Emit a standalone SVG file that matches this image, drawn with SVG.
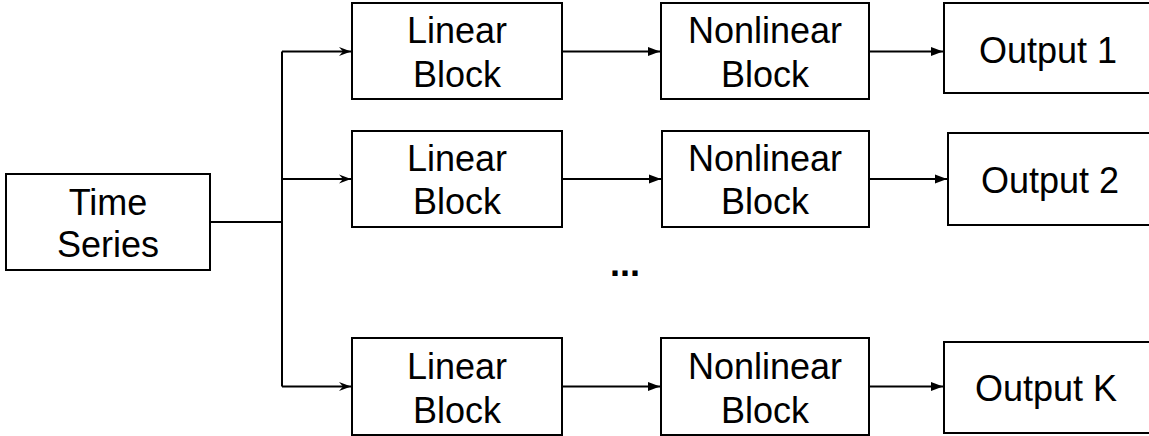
<svg xmlns="http://www.w3.org/2000/svg" width="1149" height="436" viewBox="0 0 1149 436">
  <defs>
    <style>
      .box { fill: #fff; stroke: #000; stroke-width: 2; }
      .lbl { font-family: "Liberation Sans", Arial, sans-serif; font-size: 36px; fill: #000; text-anchor: middle; }
      .conn { fill: none; stroke: #000; stroke-width: 2; }
      .dots { font-family: "Liberation Sans", Arial, sans-serif; font-size: 36px; font-weight: bold; fill: #000; }
    </style>
    <marker id="open" markerUnits="userSpaceOnUse" markerWidth="14" markerHeight="12" refX="12" refY="6" orient="auto">
      <path d="M0,1.5 L12,6 L0,10.5 L4,6 Z" fill="#000"/>
    </marker>
    <marker id="tri" markerUnits="userSpaceOnUse" markerWidth="14" markerHeight="12" refX="12" refY="6" orient="auto">
      <path d="M0,1.5 L12,6 L0,10.5 Z" fill="#000"/>
    </marker>
  </defs>
  <rect width="1149" height="436" fill="#fff"/>

  <g id="connectors">
    <path class="conn" d="M210,222 H282"/>
    <path class="conn" d="M282,51.5 V386.5"/>
    <path class="conn" d="M282,51.5 H351" marker-end="url(#open)"/>
    <path class="conn" d="M282,179 H351" marker-end="url(#open)"/>
    <path class="conn" d="M282,386.5 H351" marker-end="url(#open)"/>
    <path class="conn" d="M562,51.5 H660" marker-end="url(#tri)"/>
    <path class="conn" d="M562,179 H661" marker-end="url(#tri)"/>
    <path class="conn" d="M562,386.5 H660" marker-end="url(#tri)"/>
    <path class="conn" d="M869,51.5 H943" marker-end="url(#tri)"/>
    <path class="conn" d="M869,179 H947" marker-end="url(#tri)"/>
    <path class="conn" d="M869,386.5 H943" marker-end="url(#tri)"/>
  </g>

  <g id="time-series">
    <rect class="box" x="6" y="174" width="204" height="96"/>
    <text class="lbl" x="108" y="215">Time</text>
    <text class="lbl" x="108" y="257">Series</text>
  </g>

  <g id="linear-1">
    <rect class="box" x="352" y="3" width="210" height="96"/>
    <text class="lbl" x="457" y="43">Linear</text>
    <text class="lbl" x="457" y="87">Block</text>
  </g>
  <g id="linear-2">
    <rect class="box" x="352" y="131" width="210" height="96"/>
    <text class="lbl" x="457" y="171">Linear</text>
    <text class="lbl" x="457" y="214">Block</text>
  </g>
  <g id="linear-k">
    <rect class="box" x="352" y="338" width="210" height="97"/>
    <text class="lbl" x="457" y="379">Linear</text>
    <text class="lbl" x="457" y="423">Block</text>
  </g>

  <g id="nonlinear-1">
    <rect class="box" x="661" y="3" width="208" height="96"/>
    <text class="lbl" x="765" y="43">Nonlinear</text>
    <text class="lbl" x="765" y="87">Block</text>
  </g>
  <g id="nonlinear-2">
    <rect class="box" x="662" y="131" width="207" height="96"/>
    <text class="lbl" x="765" y="171">Nonlinear</text>
    <text class="lbl" x="765" y="214">Block</text>
  </g>
  <g id="nonlinear-k">
    <rect class="box" x="661" y="338" width="208" height="97"/>
    <text class="lbl" x="765" y="379">Nonlinear</text>
    <text class="lbl" x="765" y="423">Block</text>
  </g>

  <g id="output-1">
    <rect class="box" x="944" y="3" width="210" height="90"/>
    <text class="lbl" x="1048" y="62.5">Output 1</text>
  </g>
  <g id="output-2">
    <rect class="box" x="948" y="133" width="206" height="92"/>
    <text class="lbl" x="1050" y="193">Output 2</text>
  </g>
  <g id="output-k">
    <rect class="box" x="944" y="342" width="210" height="91"/>
    <text class="lbl" x="1046" y="401">Output K</text>
  </g>

  <text class="dots" x="610" y="276">...</text>
</svg>
